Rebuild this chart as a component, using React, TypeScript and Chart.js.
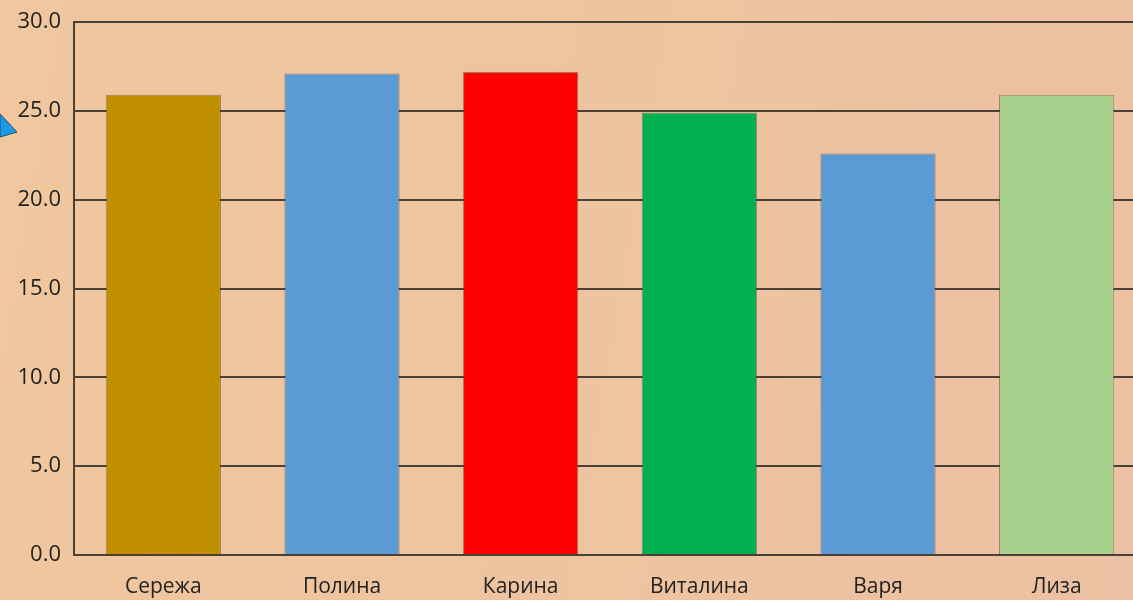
import React, { useEffect, useRef } from "react";
import { Chart, registerables } from "chart.js";

Chart.register(...registerables);

const categories = ["Сережа", "Полина", "Карина", "Виталина", "Варя", "Лиза"];
const values = [25.9, 27.1, 27.2, 24.9, 22.6, 25.9];
const barColors = ["#BF8F00", "#5B9BD5", "#FF0000", "#00B050", "#5B9BD5", "#A9D18E"];
const yMin = 0;
const yMax = 30;
const yStep = 5;

const arrowPlugin = {
  id: "leftArrow",
  afterDraw(chart: any) {
    const ctx = chart.ctx;
    ctx.save();
    ctx.beginPath();
    ctx.moveTo(0, 114);
    ctx.lineTo(17, 132);
    ctx.lineTo(0, 137);
    ctx.closePath();
    ctx.fillStyle = "#1E9BE0";
    ctx.fill();
    ctx.strokeStyle = "#1a4e80";
    ctx.lineWidth = 1;
    ctx.stroke();
    ctx.restore();
  },
};

export default function App() {
  const ref = useRef<HTMLCanvasElement | null>(null);

  useEffect(() => {
    if (!ref.current) return;
    const chart = new Chart(ref.current, {
      type: "bar",
      data: {
        labels: categories,
        datasets: [
          {
            data: values,
            backgroundColor: barColors,
            borderColor: "rgba(90,70,50,0.55)",
            borderWidth: 1,
            categoryPercentage: 1,
            barPercentage: 0.645,
          },
        ],
      },
      options: {
        responsive: false,
        animation: false,
        layout: { padding: { top: 22, left: 0, right: 0, bottom: 0 } },
        plugins: {
          legend: { display: false },
          tooltip: { enabled: false },
        },
        scales: {
          x: {
            grid: { display: false, drawTicks: false },
            border: { display: true, color: "#4a4036", width: 2 },
            ticks: {
              color: "#222",
              font: { family: "'Open Sans', sans-serif", size: 21 },
              padding: 19,
              maxRotation: 0,
            },
            afterFit: (s: any) => {
              s.height = 45;
              s.paddingLeft = 0;
              s.paddingRight = 0;
            },
          },
          y: {
            min: yMin,
            max: yMax,
            grid: { color: "#4a4036", lineWidth: 2, drawTicks: false },
            border: { display: true, color: "#4a4036", width: 2 },
            ticks: {
              stepSize: yStep,
              color: "#222",
              font: { family: "'Open Sans', sans-serif", size: 22 },
              padding: 13,
              callback: (v: any) => Number(v).toFixed(1),
            },
            afterFit: (s: any) => {
              s.width = 74;
              s.paddingTop = 0;
              s.paddingBottom = 0;
            },
          },
        },
      },
      plugins: [arrowPlugin],
    });
    return () => chart.destroy();
  }, []);

  return (
    <div
      style={{
        position: "fixed",
        left: 0,
        top: 0,
        width: 1133,
        height: 600,
        overflow: "hidden",
        background: "linear-gradient(100deg, #F0C79E 0%, #EEC4A0 50%, #ECC0A2 100%)",
      }}
    >
      <canvas ref={ref} width={1146} height={600} style={{ width: 1146, height: 600, display: "block" }} />
    </div>
  );
}
